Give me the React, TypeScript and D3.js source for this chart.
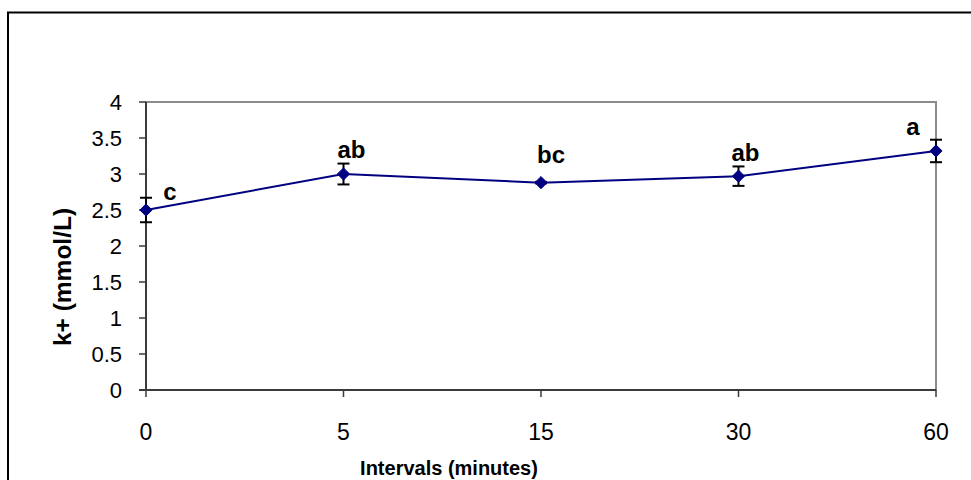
import React, { useEffect } from "react";
import * as d3 from "d3";

const categories = ["0", "5", "15", "30", "60"];
const meanValues = [2.5, 3.0, 2.88, 2.97, 3.32];
const errorValues = [0.17, 0.145, 0.01, 0.135, 0.156];
const sigLetters = ["c", "ab", "bc", "ab", "a"];
const yTicks = [0, 0.5, 1, 1.5, 2, 2.5, 3, 3.5, 4];

const W = 971;
const H = 480;
const plot = { left: 146, right: 936, top: 102, bottom: 390 };
// label placement offsets relative to each point (style, not data)
const labelOffsets = [
  { dx: 24, dy: -10 },
  { dx: 8, dy: -16 },
  { dx: 10, dy: -20 },
  { dx: 7, dy: -15 },
  { dx: -23, dy: -16 },
];

export default function App() {
  useEffect(() => {
    document.body.style.margin = "0";
  }, []);

  const x = d3.scalePoint<string>().domain(categories).range([plot.left, plot.right]);
  const y = d3.scaleLinear().domain([0, 4]).range([plot.bottom, plot.top]);

  const pts = categories.map((c, i) => ({ c, v: meanValues[i], e: errorValues[i], l: sigLetters[i] }));
  const line = d3
    .line<{ c: string; v: number }>()
    .x((d) => x(d.c) as number)
    .y((d) => y(d.v));

  const diamond = d3.symbol().type(d3.symbolDiamond2).size(95)();

  return (
    <svg width={W} height={H} style={{ display: "block", fontFamily: "Arial, 'Liberation Sans', sans-serif" }}>
      <rect x={0} y={0} width={W} height={H} fill="#fff" />
      {/* outer chart frame */}
      <rect x={8} y={12.5} width={W + 20} height={H + 20} fill="none" stroke="#000" strokeWidth={2} />
      {/* plot area border */}
      <rect
        x={plot.left}
        y={plot.top}
        width={plot.right - plot.left}
        height={plot.bottom - plot.top}
        fill="none"
        stroke="#8c8c8c"
        strokeWidth={2}
      />
      {/* y axis */}
      <line x1={plot.left} x2={plot.left} y1={plot.top} y2={plot.bottom} stroke="#3a3a3a" strokeWidth={2} />
      {yTicks.map((t) => (
        <g key={t}>
          <line x1={plot.left - 7} x2={plot.left} y1={y(t)} y2={y(t)} stroke="#3a3a3a" strokeWidth={1.5} />
          <text x={122} y={y(t)} dy="0.36em" textAnchor="end" fontSize={22} fill="#000">
            {d3.format("")(t)}
          </text>
        </g>
      ))}
      {/* x axis */}
      <line x1={plot.left - 7} x2={plot.right} y1={plot.bottom} y2={plot.bottom} stroke="#3a3a3a" strokeWidth={2} />
      {categories.map((c) => (
        <g key={c}>
          <line x1={x(c)} x2={x(c)} y1={plot.bottom} y2={plot.bottom + 7} stroke="#3a3a3a" strokeWidth={1.5} />
          <text x={x(c)} y={440} textAnchor="middle" fontSize={23} fill="#000">
            {c}
          </text>
        </g>
      ))}
      {/* axis titles */}
      <text x={449} y={475} textAnchor="middle" fontSize={20} fontWeight="bold">
        Intervals (minutes)
      </text>
      <text
        transform={`translate(71,277) rotate(-90)`}
        textAnchor="middle"
        fontSize={24.5}
        fontWeight="bold"
      >
        k+ (mmol/L)
      </text>
      {/* series line */}
      <path d={line(pts) as string} fill="none" stroke="#000080" strokeWidth={2} />
      {/* error bars */}
      {pts.map((p, i) => {
        const cx = x(p.c) as number;
        return (
          <g key={"e" + i} stroke="#000" strokeWidth={2}>
            <line x1={cx} x2={cx} y1={y(p.v + p.e)} y2={y(p.v - p.e)} />
            <line x1={cx - 6} x2={cx + 6} y1={y(p.v + p.e)} y2={y(p.v + p.e)} />
            <line x1={cx - 6} x2={cx + 6} y1={y(p.v - p.e)} y2={y(p.v - p.e)} />
          </g>
        );
      })}
      {/* markers */}
      {pts.map((p, i) => (
        <path
          key={"m" + i}
          d={diamond as string}
          transform={`translate(${x(p.c)},${y(p.v)})`}
          fill="#000080"
          stroke="#000080"
          strokeWidth={1}
        />
      ))}
      {/* significance letters */}
      {pts.map((p, i) => (
        <text
          key={"l" + i}
          x={(x(p.c) as number) + labelOffsets[i].dx}
          y={y(p.v) + labelOffsets[i].dy}
          textAnchor="middle"
          fontSize={24}
          fontWeight="bold"
          fill="#000"
        >
          {p.l}
        </text>
      ))}
    </svg>
  );
}
